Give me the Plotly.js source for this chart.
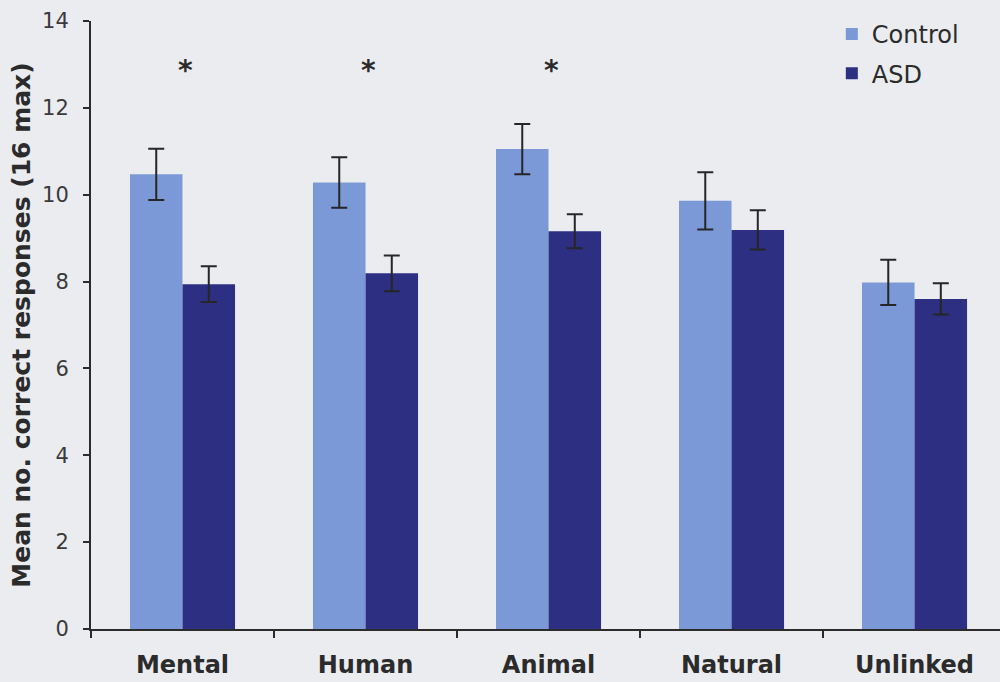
<!DOCTYPE html>
<html>
<head>
<meta charset="utf-8">
<script src="https://cdn.plot.ly/plotly-3.0.1.min.js"></script>
<style>
  html, body { margin: 0; padding: 0; background: #eaecf0; overflow: hidden; }
  #chart { width: 1000px; height: 682px; }
</style>
</head>
<body>
<div id="chart"></div>
<script>
// Task categories
const categories = ["Mental", "Human", "Animal", "Natural", "Unlinked"];

// Mean correct responses and error bars per group
const controlMeans = [10.47, 10.28, 11.05, 9.86, 7.98];
const controlErr   = [0.59, 0.58, 0.58, 0.66, 0.52];
const asdMeans     = [7.94, 8.19, 9.16, 9.19, 7.60];
const asdErr       = [0.41, 0.41, 0.39, 0.45, 0.36];

// Categories with a significant group difference
const significant = ["Mental", "Human", "Animal"];
const starLevel = 12.85;

const yTicks = [0, 2, 4, 6, 8, 10, 12, 14];

const FONT = "DejaVu Sans, Verdana, sans-serif";
const INK = "#2b2b2b";

const errStyle = { type: "data", visible: true, color: "#262626", thickness: 2, width: 8 };

const traces = [
  {
    type: "bar", name: "Control", legendgroup: "control", x: categories, y: controlMeans,
    marker: { color: "#7b99d6" },
    error_y: Object.assign({ array: controlErr }, errStyle)
  },
  {
    type: "bar", name: "ASD", legendgroup: "asd", x: categories, y: asdMeans,
    marker: { color: "#2d2f82" },
    error_y: Object.assign({ array: asdErr }, errStyle)
  }
];

const stars = significant.map(c => ({
  x: c, y: starLevel, xref: "x", yref: "y", xshift: 3,
  text: "*", showarrow: false,
  font: { family: FONT, size: 28, color: INK, weight: "bold" }
}));

const layout = {
  width: 1000, height: 682,
  paper_bgcolor: "#eaecf0", plot_bgcolor: "#eaecf0",
  margin: { l: 91, r: 0, t: 21, b: 53 },
  barmode: "group",
  bargap: 0.426, bargroupgap: 0,
  showlegend: true,
  legend: {
    x: 0.815, y: 1.015, xanchor: "left", yanchor: "top",
    bgcolor: "rgba(0,0,0,0)",
    font: { family: FONT, size: 24, color: INK },
    tracegroupgap: 5
  },
  xaxis: {
    type: "category",
    range: [-0.5, 4.467],
    showline: true, linecolor: INK, linewidth: 2,
    ticks: "outside", tickson: "boundaries", ticklen: 7, tickwidth: 2, tickcolor: INK,
    ticklabelstandoff: 13,
    tickfont: { family: FONT, size: 24, color: INK, weight: "bold" },
    showgrid: false, zeroline: false, fixedrange: true
  },
  yaxis: {
    range: [0, 14],
    tickvals: yTicks, ticktext: yTicks.map(String),
    showline: true, linecolor: INK, linewidth: 2,
    ticks: "outside", ticklen: 6, tickwidth: 2, tickcolor: INK,
    ticklabelstandoff: 10,
    tickfont: { family: FONT, size: 21, color: "#3a3a3a" },
    showgrid: false, zeroline: false, fixedrange: true,
    title: {
      text: "Mean no. correct responses (16 max)",
      font: { family: FONT, size: 25, color: INK, weight: "bold" },
      standoff: 4
    }
  },
  annotations: stars
};

Plotly.newPlot("chart", traces, layout, { displayModeBar: false, staticPlot: true });
</script>
</body>
</html>
